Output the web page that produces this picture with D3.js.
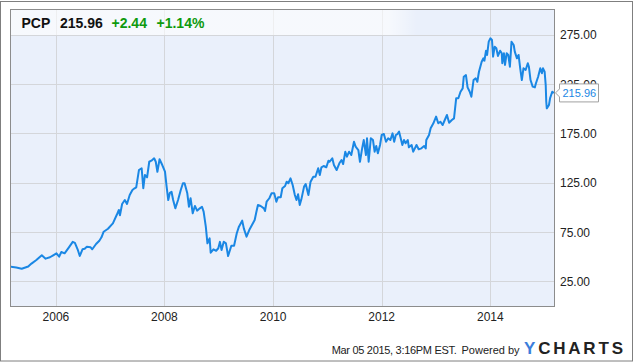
<!DOCTYPE html>
<html>
<head>
<meta charset="utf-8">
<script src="https://cdn.jsdelivr.net/npm/d3@7"></script>
<style>
  body { margin: 0; background: #fff; }
  svg { display: block; font-family: "Liberation Sans", Arial, sans-serif; }
</style>
</head>
<body>
<div id="chart"></div>
<script>
// PCP price (decimal year, close)
const years = [
    2005.17, 2005.27, 2005.37, 2005.49, 2005.55, 2005.64, 2005.74, 2005.81, 2005.89, 2005.95,
    2006.01, 2006.06, 2006.10, 2006.16, 2006.24, 2006.31, 2006.35, 2006.40, 2006.44, 2006.49,
    2006.53, 2006.57, 2006.64, 2006.67, 2006.74, 2006.80, 2006.84, 2006.88, 2006.96, 2007.02,
    2007.05, 2007.12, 2007.16, 2007.18, 2007.22, 2007.27, 2007.31, 2007.36, 2007.41, 2007.45,
    2007.48, 2007.53, 2007.58, 2007.61, 2007.64, 2007.68, 2007.72, 2007.76, 2007.81, 2007.84,
    2007.87, 2007.91, 2007.96, 2008.01, 2008.04, 2008.07, 2008.10, 2008.13, 2008.16, 2008.20,
    2008.25, 2008.30, 2008.34, 2008.37, 2008.42, 2008.45, 2008.48, 2008.52, 2008.56, 2008.60,
    2008.65, 2008.69, 2008.72, 2008.76, 2008.79, 2008.83, 2008.85, 2008.90, 2008.95, 2008.99,
    2009.02, 2009.05, 2009.09, 2009.13, 2009.17, 2009.23, 2009.28, 2009.33, 2009.37, 2009.43,
    2009.46, 2009.51, 2009.56, 2009.61, 2009.66, 2009.69, 2009.72, 2009.77, 2009.83, 2009.85,
    2009.88, 2009.93, 2009.97, 2010.02, 2010.06, 2010.09, 2010.14, 2010.17, 2010.22, 2010.25,
    2010.28, 2010.32, 2010.36, 2010.40, 2010.43, 2010.46, 2010.49, 2010.52, 2010.57, 2010.60,
    2010.65, 2010.69, 2010.74, 2010.78, 2010.83, 2010.86, 2010.89, 2010.93, 2010.98, 2011.02,
    2011.04, 2011.09, 2011.12, 2011.17, 2011.22, 2011.26, 2011.29, 2011.33, 2011.36, 2011.40,
    2011.44, 2011.49, 2011.52, 2011.57, 2011.60, 2011.64, 2011.67, 2011.71, 2011.73, 2011.76,
    2011.80, 2011.84, 2011.87, 2011.90, 2011.93, 2011.97, 2012.00, 2012.04, 2012.08, 2012.12,
    2012.16, 2012.20, 2012.23, 2012.26, 2012.29, 2012.32, 2012.35, 2012.38, 2012.41, 2012.44,
    2012.48, 2012.50, 2012.55, 2012.58, 2012.61, 2012.64, 2012.68, 2012.73, 2012.78, 2012.81,
    2012.82, 2012.87, 2012.90, 2012.95, 2013.00, 2013.04, 2013.08, 2013.12, 2013.16, 2013.20,
    2013.24, 2013.29, 2013.33, 2013.37, 2013.41, 2013.45, 2013.49, 2013.51, 2013.55, 2013.58,
    2013.62, 2013.65, 2013.69, 2013.73, 2013.76, 2013.79, 2013.84, 2013.87, 2013.89, 2013.92,
    2013.94, 2013.97, 2014.00, 2014.03, 2014.05, 2014.08, 2014.11, 2014.14, 2014.18, 2014.21,
    2014.22, 2014.25, 2014.27, 2014.30, 2014.33, 2014.36, 2014.39, 2014.43, 2014.45, 2014.49,
    2014.52, 2014.55, 2014.58, 2014.61, 2014.65, 2014.69, 2014.71, 2014.74, 2014.78, 2014.82,
    2014.84, 2014.88, 2014.92, 2014.95, 2014.97, 2015.00, 2015.02, 2015.03, 2015.04, 2015.08,
    2015.10, 2015.14, 2015.17
];
const prices = [
    39.8, 39.0, 37.8, 40.0, 43.0, 46.6, 51.4, 48.0, 49.4, 51.4,
    53.4, 50.0, 54.7, 53.4, 59.5, 65.0, 64.0, 57.5, 50.7, 57.5,
    58.0, 60.0, 59.5, 57.5, 62.8, 66.2, 69.6, 75.3, 78.3, 82.0,
    83.8, 92.2, 97.3, 92.0, 103.4, 107.4, 103.4, 112.5, 117.6, 119.3,
    120.3, 137.8, 139.6, 119.3, 132.8, 130.4, 146.2, 147.3, 149.7, 146.2,
    136.1, 148.7, 142.9, 136.1, 121.0, 107.4, 114.8, 115.8, 107.4, 99.0,
    107.4, 117.6, 124.4, 124.4, 114.2, 100.6, 109.2, 94.0, 101.4, 96.6,
    99.0, 100.6, 95.6, 80.4, 63.5, 68.6, 54.0, 57.5, 56.0, 58.5,
    65.0, 56.8, 65.2, 63.5, 50.7, 61.1, 61.1, 73.7, 80.4, 86.5,
    78.7, 70.2, 77.0, 82.1, 87.2, 95.0, 102.4, 101.4, 99.0, 96.3,
    105.7, 109.2, 114.2, 114.2, 105.7, 110.2, 110.2, 119.3, 121.6, 126.0,
    124.4, 129.4, 122.6, 112.5, 107.4, 113.2, 102.4, 108.1, 121.0, 123.6,
    112.5, 126.0, 131.0, 131.0, 139.6, 132.8, 140.6, 141.9, 140.6, 147.3,
    146.2, 149.7, 142.9, 137.8, 144.6, 148.0, 143.9, 156.4, 151.3, 156.4,
    153.0, 166.5, 161.5, 158.1, 146.2, 159.8, 168.2, 153.0, 170.0, 146.2,
    170.0, 168.2, 156.4, 162.2, 154.8, 163.2, 173.3, 174.3, 166.5, 170.0,
    168.2, 175.0, 166.5, 173.3, 174.3, 176.7, 170.0, 163.2, 168.2, 164.9,
    168.2, 160.8, 163.2, 156.4, 159.8, 163.2, 158.8, 159.8, 162.2, 159.8,
    168.2, 173.3, 180.1, 185.2, 191.9, 185.2, 186.8, 183.4, 188.5, 193.6,
    185.8, 188.5, 190.2, 210.5, 210.5, 217.2, 220.6, 232.4, 234.1, 221.6,
    217.2, 212.1, 229.0, 230.7, 227.3, 237.4, 247.6, 251.0, 248.6, 258.7,
    254.4, 267.9, 271.3, 269.6, 252.7, 262.8, 261.2, 253.4, 258.7, 256.1,
    246.0, 256.1, 244.3, 256.1, 254.4, 242.5, 267.9, 264.5, 257.8, 251.0,
    254.4, 240.9, 229.0, 240.9, 239.2, 246.0, 242.5, 229.0, 222.3, 221.6,
    225.7, 232.4, 240.9, 235.9, 240.9, 237.4, 223.9, 207.0, 200.3, 203.7,
    210.5, 217.2, 215.96
];

const yTicks = [25, 75, 125, 175, 225, 275];
const xTickYears = [2006, 2008, 2010, 2012, 2014];

const ticker = "PCP";
const lastPrice = "215.96";
const change = "+2.44";
const changePct = "+1.14%";
const stamp = "Mar 05 2015, 3:16PM EST.";
const powered = "Powered by";

// decimal year -> Date
function toDate(t) {
    const y = Math.floor(t);
    const a = new Date(y, 0, 1), b = new Date(y + 1, 0, 1);
    return new Date(+a + (t - y) * (b - a));
}

const data = years.map((t, i) => ({ date: toDate(t), value: prices[i] }));

const width = 635, height = 362;
const plot = { left: 11, right: 554, top: 10, bottom: 306 };

const svg = d3.select("#chart")
    .append("svg")
    .attr("width", width)
    .attr("height", height);

const x = d3.scaleTime()
    .domain([new Date(2005, 2, 5), new Date(2015, 2, 5)])
    .range([plot.left, plot.right]);

const y = d3.scaleLinear()
    .domain([0, 300])
    .range([plot.bottom, plot.top]);

// outer frame
svg.append("rect")
    .attr("x", 0.5).attr("y", 1.5)
    .attr("width", 632).attr("height", 359.5)
    .style("fill", "#fff")
    .style("stroke", "#7f7f7f");

// plot background
svg.append("rect")
    .attr("x", plot.left).attr("y", plot.top)
    .attr("width", plot.right - plot.left).attr("height", plot.bottom - plot.top)
    .style("fill", "#eaf0fb");

// gridlines
svg.append("g")
    .selectAll("line")
    .data(yTicks)
    .enter()
    .append("line")
    .attr("x1", plot.left).attr("x2", plot.right)
    .attr("y1", d => Math.round(y(d)) + 0.5)
    .attr("y2", d => Math.round(y(d)) + 0.5)
    .style("stroke", "#d4d6da");

svg.append("g")
    .selectAll("line")
    .data(xTickYears)
    .enter()
    .append("line")
    .attr("x1", d => Math.round(x(new Date(d, 0, 1))) + 0.5)
    .attr("x2", d => Math.round(x(new Date(d, 0, 1))) + 0.5)
    .attr("y1", plot.top).attr("y2", plot.bottom)
    .style("stroke", "#d4d6da");

// header band, fading out on the right
const grad = svg.append("defs").append("linearGradient")
    .attr("id", "hdr")
    .attr("x1", "0").attr("x2", "1");
grad.append("stop").attr("offset", "0.93").attr("stop-color", "#fff").attr("stop-opacity", 0.6);
grad.append("stop").attr("offset", "1").attr("stop-color", "#fff").attr("stop-opacity", 0);

svg.append("rect")
    .attr("x", plot.left).attr("y", plot.top)
    .attr("width", 406).attr("height", 25)
    .style("fill", "url(#hdr)");

// price line
svg.append("clipPath").attr("id", "clip")
    .append("rect")
    .attr("x", plot.left).attr("y", plot.top)
    .attr("width", plot.right - plot.left).attr("height", plot.bottom - plot.top);

const line = d3.line()
    .x(d => x(d.date))
    .y(d => y(d.value));

svg.append("path")
    .datum(data)
    .attr("clip-path", "url(#clip)")
    .attr("d", line)
    .style("fill", "none")
    .style("stroke", "#1a87e4")
    .style("stroke-width", 2)
    .style("stroke-linejoin", "round");

// plot border
svg.append("rect")
    .attr("x", plot.left - 0.5).attr("y", plot.top - 0.5)
    .attr("width", plot.right - plot.left + 1).attr("height", plot.bottom - plot.top + 1)
    .style("fill", "none")
    .style("stroke", "#8c8c8c");

// axis labels
svg.append("g")
    .selectAll("text")
    .data(yTicks)
    .enter()
    .append("text")
    .attr("x", 560)
    .attr("y", d => y(d) + 4.5)
    .text(d => d3.format(".2f")(d))
    .style("font-size", "12px")
    .style("fill", "#222");

svg.append("g")
    .selectAll("text")
    .data(xTickYears)
    .enter()
    .append("text")
    .attr("x", d => x(new Date(d, 0, 1)))
    .attr("y", 321)
    .text(d => d)
    .style("font-size", "12px")
    .style("text-anchor", "middle")
    .style("fill", "#222");

// last price marker (sits over the 225.00 label, as in the original)
const last = data[data.length - 1];
const ly = y(last.value);
svg.append("path")
    .attr("d", `M555.5,${ly} L559.5,${ly - 4} L559.5,${ly - 9} L598.5,${ly - 9} L598.5,${ly + 9} L559.5,${ly + 9} L559.5,${ly + 4} Z`)
    .style("fill", "#fff")
    .style("stroke", "#a0a0a0");

svg.append("text")
    .attr("x", 562.5)
    .attr("y", ly + 4)
    .text(lastPrice)
    .style("font-size", "11px")
    .style("fill", "#1a87e4");

// header text
const hdr = svg.append("text")
    .attr("y", 28.3)
    .style("font-size", "14px")
    .style("font-weight", "bold");
hdr.append("tspan").attr("x", 21.5).text(ticker).style("fill", "#111");
hdr.append("tspan").attr("x", 60).text(lastPrice).style("fill", "#111");
hdr.append("tspan").attr("x", 111.5).text(change).style("fill", "#0e9a0e");
hdr.append("tspan").attr("x", 156.5).text(changePct).style("fill", "#0e9a0e");

// footer
svg.append("text")
    .attr("x", 456.5)
    .attr("y", 353.5)
    .text(stamp)
    .style("font-size", "11px")
    .style("letter-spacing", "-0.3px")
    .style("text-anchor", "end")
    .style("fill", "#222");

svg.append("text")
    .attr("x", 461.5)
    .attr("y", 353.5)
    .text(powered)
    .style("font-size", "11px")
    .style("fill", "#222");

const logo = svg.append("text")
    .attr("x", 524)
    .attr("y", 354)
    .style("font-size", "17px")
    .style("font-weight", "bold")
    .style("letter-spacing", "2.8px");
logo.append("tspan").text("Y").style("fill", "#3b7ddb");
logo.append("tspan").text("CHARTS").style("fill", "#222");
</script>
</body>
</html>
